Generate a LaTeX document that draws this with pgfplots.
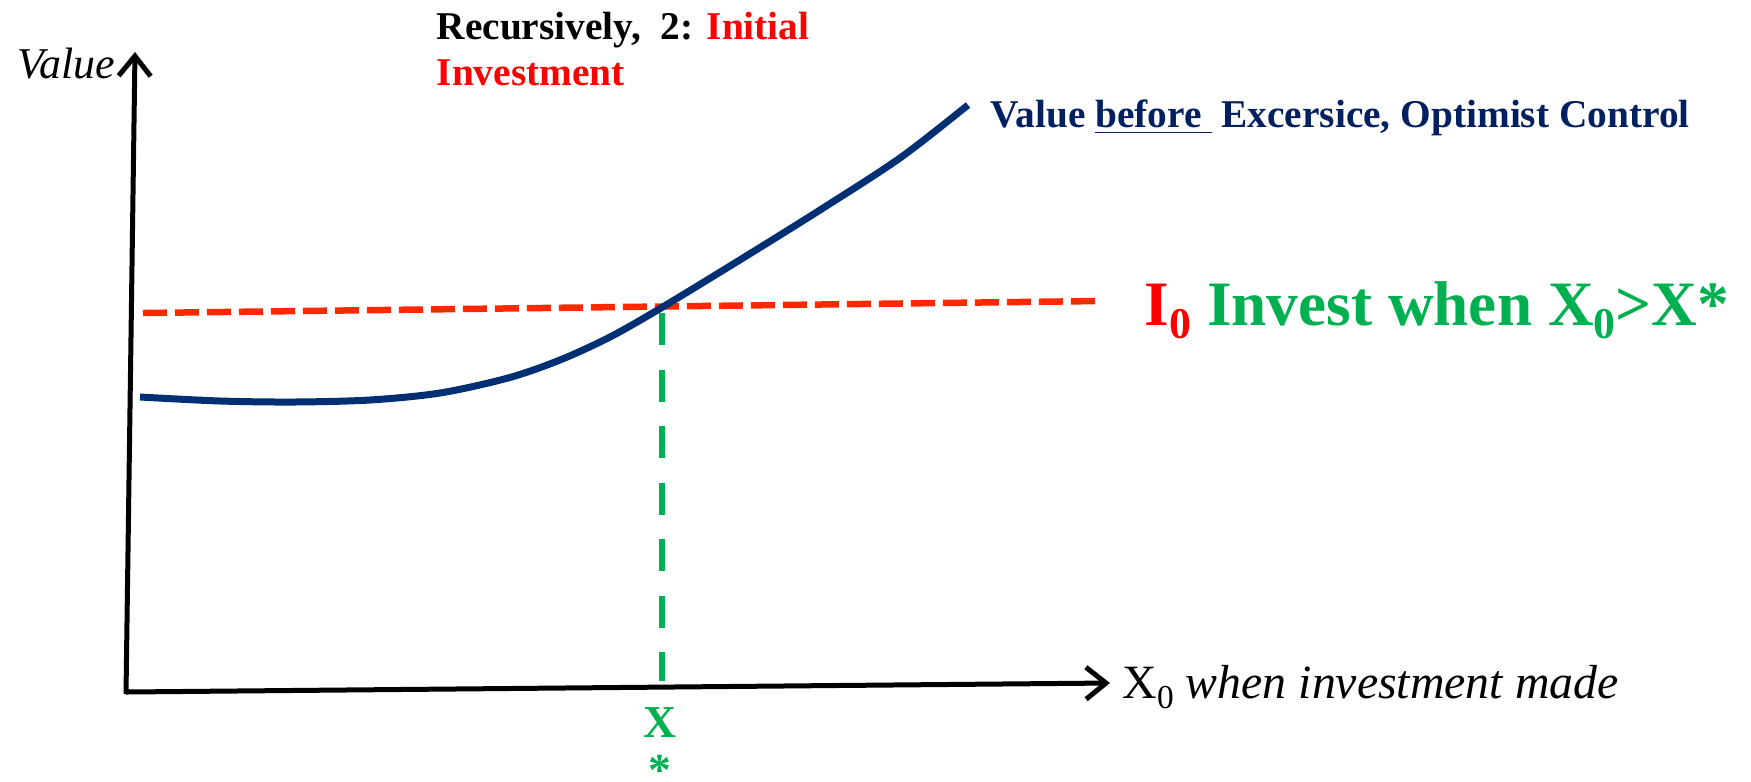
\documentclass[border=0pt]{standalone}
\usepackage{pgfplots}
\pgfplotsset{compat=1.18}
\usepackage{fontspec}
\setmainfont{Liberation Serif}
\usetikzlibrary{arrows.meta}
\definecolor{navy}{RGB}{0,48,115}
\definecolor{navytext}{RGB}{0,32,96}
\definecolor{dashred}{RGB}{255,40,0}
\definecolor{tred}{RGB}{255,0,0}
\definecolor{xgreen}{RGB}{0,176,80}
\begin{document}
\begin{tikzpicture}
\begin{axis}[
  width=17.51cm, height=7.81cm, scale only axis,
  xmin=0, xmax=1751, ymin=0, ymax=781, y dir=reverse,
  hide axis, clip=false,
]
% axes
\addplot[black, line width=0.5mm, -{Straight Barb[length=2mm,width=3.2mm]}] coordinates {(126,692) (1110,683)};
\addplot[black, line width=0.5mm, -{Straight Barb[length=2mm,width=3.2mm]}] coordinates {(126,694) (135,52)};
% red dashed investment level
\addplot[dashred, line width=0.65mm, dash pattern=on 2.4mm off 0.8mm] coordinates {(143,313) (1100,301)};
% green dashed X*
\addplot[xgreen, line width=0.6mm, dash pattern=on 3.2mm off 2.45mm] coordinates {(662,313) (662,681)};
% blue value curve
\addplot[navy, line width=0.7mm, smooth, tension=0.5] coordinates {
 (140,397) (220,401) (294,402) (370,400) (440,393) (508,378) (560,360)
 (610,337) (661,308) (743,258) (820,210) (900,158) (968,105)};
% texts
\node[anchor=base west, inner sep=0, font=\fontsize{11.2}{13}\selectfont\bfseries] at (axis cs:436,39) {Recursively,\ \ 2: \textcolor{tred}{Initial}};
\node[anchor=base west, inner sep=0, text=tred, font=\fontsize{11.2}{13}\selectfont\bfseries] at (axis cs:436,85) {Investment};
\node[anchor=base west, inner sep=0, font=\fontsize{12.5}{15}\selectfont\itshape] at (axis cs:17,78) {Value};
\node[anchor=base west, inner sep=0, text=navytext, font=\fontsize{11.2}{13}\selectfont\bfseries] at (axis cs:990,127) {Value \underline{before\ }\ Excersice, Optimist Control};
\node[anchor=base west, inner sep=0, font=\fontsize{18}{21}\selectfont\bfseries] at (axis cs:1144,325) {\textcolor{tred}{I\raisebox{-0.22em}{\fontsize{12.5}{14}\selectfont 0}} \textcolor{xgreen}{Invest when X\raisebox{-0.22em}{\fontsize{12.5}{14}\selectfont 0}>X*}};
\node[anchor=base west, inner sep=0, font=\fontsize{13.6}{16}\selectfont] at (axis cs:1122,698) {X\raisebox{-0.22em}{\fontsize{9.5}{11}\selectfont 0} \textit{when investment made}};
\node[anchor=base, inner sep=0, text=xgreen, font=\fontsize{13}{15}\selectfont\bfseries] at (axis cs:660,737) {X};
\node[anchor=north, inner sep=0, text=xgreen, font=\fontsize{13}{15}\selectfont\bfseries] at (axis cs:660,755) {*};
\end{axis}
\pgfresetboundingbox
\path (current axis.south west) rectangle (current axis.north east);
\end{tikzpicture}
\end{document}
